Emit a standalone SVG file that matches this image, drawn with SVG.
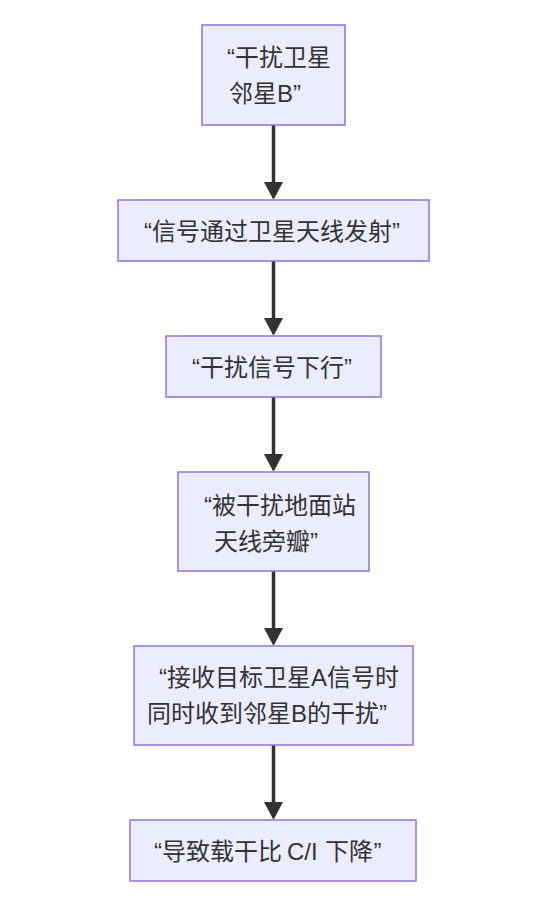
<svg xmlns="http://www.w3.org/2000/svg" width="543" height="912" viewBox="0 0 543 912">
<style>
.node rect{fill:#ECECFF;stroke:#9370DB;stroke-width:1.5;}
.node text{font-family:"Liberation Sans","Noto Sans CJK SC",sans-serif;font-size:24px;fill:#333333;}
.edge{fill:none;stroke:#333333;stroke-width:3.5;}
</style>
<defs>
<marker id="arrow" viewBox="0 0 18 19" markerWidth="18" markerHeight="19" refX="12" refY="9.5" orient="auto" markerUnits="userSpaceOnUse">
<path d="M0,0 L18,9.5 L0,19 z" fill="#333333"/>
</marker>
</defs>
<rect width="543" height="912" fill="#ffffff"/>
<g id="connectors">
<path class="edge" d="M273.5,125 L273.5,194" marker-end="url(#arrow)"/>
<path class="edge" d="M273.5,261 L273.5,330" marker-end="url(#arrow)"/>
<path class="edge" d="M273.5,397 L273.5,466" marker-end="url(#arrow)"/>
<path class="edge" d="M273.5,571 L273.5,640" marker-end="url(#arrow)"/>
<path class="edge" d="M273.5,745 L273.5,814" marker-end="url(#arrow)"/>
</g>
<g id="n1" class="node">
<rect x="202" y="25" width="143" height="100"/>
<text x="227" y="66">“干扰卫星</text>
<text x="229" y="102">邻星B”</text>
</g>
<g id="n2" class="node">
<rect x="118" y="200" width="311" height="61"/>
<text x="144" y="240">“信号通过卫星天线发射”</text>
</g>
<g id="n3" class="node">
<rect x="166" y="336" width="215" height="61"/>
<text x="192" y="376">“干扰信号下行”</text>
</g>
<g id="n4" class="node">
<rect x="178" y="472" width="191" height="99"/>
<text x="204" y="514">“被干扰地面站</text>
<text x="214" y="550">天线旁瓣”</text>
</g>
<g id="n5" class="node">
<rect x="134" y="646" width="279" height="99"/>
<text x="159" y="686">“接收目标卫星A信号时</text>
<text x="147" y="722">同时收到邻星B的干扰”</text>
</g>
<g id="n6" class="node">
<rect x="130" y="820" width="286" height="61"/>
<text x="154" y="860">“导致载干比<tspan x="287">C/I</tspan><tspan x="325">下降</tspan><tspan x="373.5">”</tspan></text>
</g>
</svg>
